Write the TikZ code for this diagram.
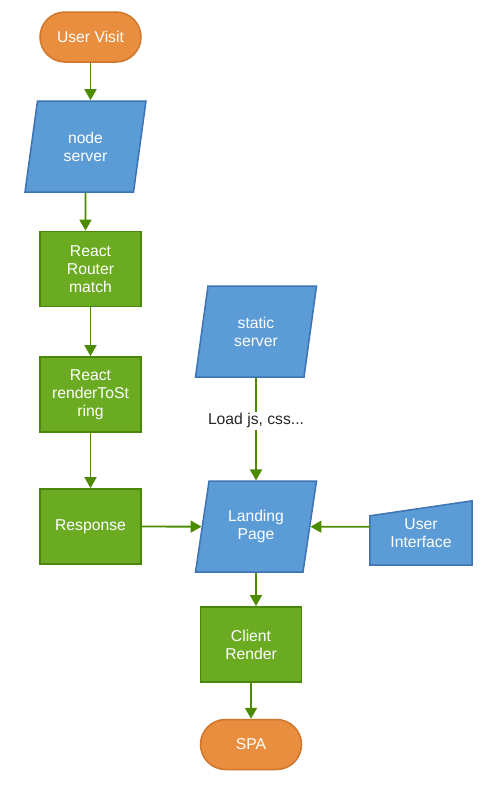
\documentclass[tikz,border=0pt]{standalone}
\usepackage{fontspec}
\setmainfont{Liberation Sans}
\usetikzlibrary{positioning,arrows.meta,shapes.geometric}

\definecolor{termfill}{HTML}{E98E3F}
\definecolor{termline}{HTML}{D0762B}
\definecolor{iofill}{HTML}{5B9BD6}
\definecolor{ioline}{HTML}{3E73B4}
\definecolor{procfill}{HTML}{6AAB22}
\definecolor{procline}{HTML}{4A8708}
\definecolor{flowline}{HTML}{4C8A00}

\begin{document}
\begin{tikzpicture}[
  x=1pt,y=-1pt,>={Triangle[length=11pt,width=12pt]},
  font=\fontsize{15.7}{18}\selectfont,
  terminal/.style={draw=termline,fill=termfill,text=white,line width=1.5pt,
    minimum width=101pt,minimum height=50pt,rounded corners=25pt,align=center},
  process/.style={draw=procline,fill=procfill,text=white,line width=1.8pt,
    minimum width=101pt,minimum height=75pt,align=center,inner sep=1pt},
  inout/.style={trapezium,trapezium left angle=71,trapezium right angle=109,
    trapezium stretches body,draw=ioline,fill=iofill,text=white,line width=1.5pt,
    minimum width=121pt,minimum height=91pt,align=center},
  manual/.style={draw=ioline,fill=iofill,line width=1.5pt},
  flow/.style={->,draw=flowline,line width=1.8pt}
]
% server side (left column)
\node[terminal] (visit) at (90.5,37) {User Visit};
\node[inout] (nserver) at (85.5,146.5) {node\\server};
\node[process] (router) at (90.5,269) {React\\Router\\match};
\node[process] (render) at (90.5,394.5) {React\\renderToSt\\ring};
\node[process] (resp) at (90.5,526.5) {Response};
% client side
\node[inout] (static) at (256,331.5) {static\\server};
\node[inout] (land) at (256,526.7) {Landing\\Page};
\node[minimum width=102pt,minimum height=64pt] (ui) at (421,533) {};
\draw[manual] (ui.south west) -- (ui.south east) -- (ui.north east)
  -- ([yshift=-15pt]ui.north west) -- cycle;
\node[text=white,align=center] (uitext) at (ui.center) {User\\Interface};
\node[process] (crender) at (251,644.5) {Client\\Render};
\node[terminal] (spa) at (251,744.5) {SPA};

\draw[flow] (visit) -- (visit |- nserver.north);
\draw[flow] (nserver) -- (nserver |- router.north);
\draw[flow] (router) -- (render);
\draw[flow] (render) -- (resp);
\draw[flow] (resp) -- (land);
\draw[flow] (static) -- (land)
  node[pos=.42,fill=white,text=black!85,inner sep=2pt] {Load js, css...};
\draw[flow] (ui.west |- land) -- (land);
\draw[flow] (land) -- (land |- crender.north);
\draw[flow] (crender) -- (spa);

\useasboundingbox (0,0) rectangle (490,785);
\end{tikzpicture}
\end{document}
